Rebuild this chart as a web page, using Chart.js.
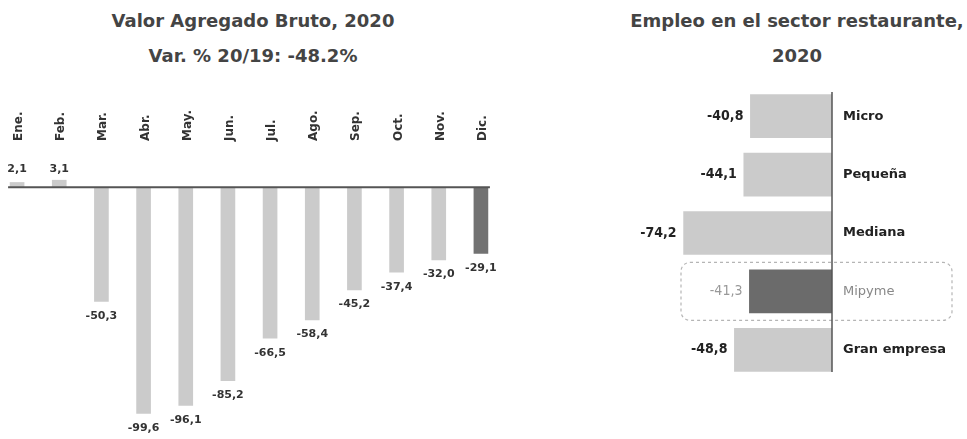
<!DOCTYPE html>
<html>
<head>
<meta charset="utf-8">
<script src="https://cdn.jsdelivr.net/npm/chart.js@4.4.1/dist/chart.umd.min.js"></script>
<style>
  body { margin:0; background:#fff; width:967px; height:439px; overflow:hidden; position:relative; font-family:"DejaVu Sans", sans-serif; }
  .title { position:absolute; font-weight:bold; color:#444; font-size:18px; text-align:center; line-height:35px; white-space:nowrap; }
  canvas { position:absolute; top:0; }
</style>
</head>
<body>
<div class="title" style="left:0;width:506px;top:3px;">Valor Agregado Bruto, 2020<br>Var. % 20/19: -48.2%</div>
<div class="title" style="left:612px;width:370px;top:3px;">Empleo en el sector restaurante,<br>2020</div>
<canvas id="vab" style="left:-10px" width="520" height="439"></canvas>
<canvas id="emp" style="left:600px" width="367" height="439"></canvas>
<script>
// datos VAB mensual
var meses = ["Ene.","Feb.","Mar.","Abr.","May.","Jun.","Jul.","Ago.","Sep.","Oct.","Nov.","Dic."];
var varVAB = [2.1, 3.1, -50.3, -99.6, -96.1, -85.2, -66.5, -58.4, -45.2, -37.4, -32.0, -29.1];

// datos empleo por tamaño
var tamanos = ["Micro","Pequeña","Mediana","Mipyme","Gran empresa"];
var varEmpleo = [-40.8, -44.1, -74.2, -41.3, -48.8];

var gris = "#cbcbcb";
var grisOscuro = "#727272";

function fmt(v){ return v.toFixed(1).replace(".", ","); }

// etiquetas del grafico de columnas
var vabLabels = {
  id: "vabLabels",
  afterDatasetsDraw: function(chart){
    var ctx = chart.ctx;
    var meta = chart.getDatasetMeta(0);
    var y0 = chart.scales.y.getPixelForValue(0);
    var first = meta.data[0], last = meta.data[meta.data.length-1];
    ctx.save();
    ctx.strokeStyle = "#555";
    ctx.lineWidth = 2;
    ctx.beginPath();
    ctx.moveTo(first.x - first.width/2 - 2, y0);
    ctx.lineTo(last.x + last.width/2 + 2, y0);
    ctx.stroke();
    ctx.fillStyle = "#333";
    meta.data.forEach(function(bar, i){
      var v = varVAB[i];
      ctx.font = "bold 11px 'DejaVu Sans'";
      ctx.textAlign = "center";
      if (v >= 0) {
        ctx.textBaseline = "bottom";
        ctx.fillText(fmt(v), bar.x, y0 - 13);
      } else {
        ctx.textBaseline = "top";
        ctx.fillText(fmt(v), bar.x, bar.y + 9);
      }
      // mes rotado
      ctx.save();
      ctx.translate(bar.x + 5, 141);
      ctx.rotate(-Math.PI/2);
      ctx.textAlign = "left";
      ctx.textBaseline = "alphabetic";
      ctx.font = "bold 12px 'DejaVu Sans'";
      ctx.fillText(meses[i], 0, 0);
      ctx.restore();
    });
    ctx.restore();
  }
};

new Chart(document.getElementById("vab").getContext("2d"), {
  type: "bar",
  data: {
    labels: meses,
    datasets: [{
      data: varVAB,
      backgroundColor: varVAB.map(function(v, i){ return i == varVAB.length-1 ? grisOscuro : gris; }),
      barThickness: 14
    }]
  },
  options: {
    responsive: false,
    animation: false,
    layout: { padding: { left: 6, right: 8, top: 160, bottom: 2 } },
    plugins: { legend: { display: false }, tooltip: { enabled: false } },
    scales: {
      x: { display: false },
      y: { display: false, min: -110, max: 12 }
    }
  },
  plugins: [vabLabels]
});

// etiquetas del grafico horizontal
var empLabels = {
  id: "empLabels",
  afterDatasetsDraw: function(chart){
    var ctx = chart.ctx;
    var meta = chart.getDatasetMeta(0);
    var x0 = chart.scales.x.getPixelForValue(0);
    var area = chart.chartArea;
    ctx.save();
    // recuadro punteado Mipyme
    var mp = meta.data[3];
    ctx.strokeStyle = "#b5b5b5";
    ctx.lineWidth = 1.2;
    ctx.setLineDash([3, 3]);
    ctx.beginPath();
    ctx.roundRect(81, mp.y - 29, 271, 58, 9);
    ctx.stroke();
    ctx.setLineDash([]);
    // eje cero
    ctx.strokeStyle = "#555";
    ctx.lineWidth = 1.5;
    ctx.beginPath();
    ctx.moveTo(x0, area.top + 5);
    ctx.lineTo(x0, area.bottom - 7);
    ctx.stroke();
    meta.data.forEach(function(bar, i){
      var destacado = i == 3;
      ctx.textBaseline = "middle";
      ctx.textAlign = "right";
      ctx.fillStyle = destacado ? "#999" : "#222";
      ctx.font = (destacado ? "" : "bold ") + "14px 'DejaVu Sans Condensed', 'DejaVu Sans'";
      ctx.fillText(fmt(varEmpleo[i]), bar.x - 7, bar.y);
      ctx.textAlign = "left";
      ctx.fillStyle = destacado ? "#888" : "#222";
      ctx.font = (destacado ? "" : "bold ") + "13px 'DejaVu Sans'";
      ctx.fillText(tamanos[i], x0 + 11, bar.y);
    });
    ctx.restore();
  }
};

new Chart(document.getElementById("emp").getContext("2d"), {
  type: "bar",
  data: {
    labels: tamanos,
    datasets: [{
      data: varEmpleo,
      backgroundColor: varEmpleo.map(function(v, i){ return i == 3 ? "#6b6b6b" : gris; }),
      barThickness: 43
    }]
  },
  options: {
    indexAxis: "y",
    responsive: false,
    animation: false,
    layout: { padding: { left: 32, right: 135, top: 87, bottom: 60 } },
    plugins: { legend: { display: false }, tooltip: { enabled: false } },
    scales: {
      x: { display: false, min: -100, max: 0 },
      y: { display: false }
    }
  },
  plugins: [empLabels]
});
</script>
</body>
</html>
